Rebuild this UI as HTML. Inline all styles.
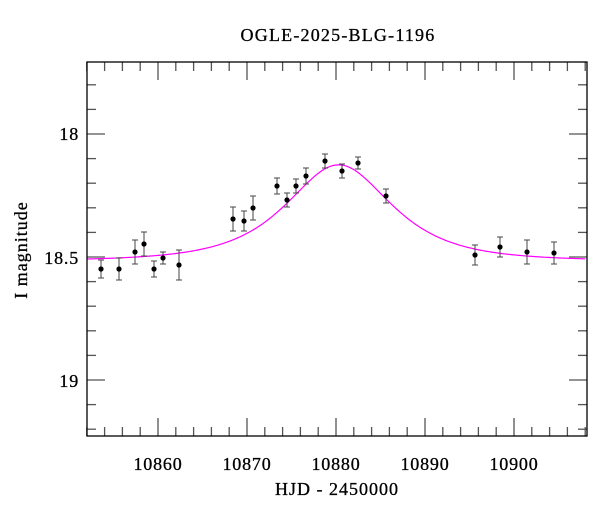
<!DOCTYPE html>
<html><head><meta charset="utf-8"><style>
body{margin:0;background:#fff;}
svg{display:block;font-family:"Liberation Serif",serif;}
</style></head><body>
<svg id="s" width="600" height="512" viewBox="0 0 600 512" xmlns="http://www.w3.org/2000/svg">
<rect x="0" y="0" width="600" height="512" fill="#fff"/>
<text x="338" y="41" font-size="18" letter-spacing="1.2" text-anchor="middle" stroke="#000" stroke-width="0.3">OGLE-2025-BLG-1196</text>
<g id="ticks" stroke="#555" stroke-width="1.3"></g>
<path id="curve" fill="none" stroke="#ff00ff" stroke-width="1.2"/>
<g id="pts"></g>
<rect x="87" y="62" width="500" height="374" fill="none" stroke="#000" stroke-width="1.3"/>
<g font-size="18" letter-spacing="0.8" text-anchor="middle" stroke="#000" stroke-width="0.3">
<text x="158" y="470">10860</text>
<text x="247" y="470">10870</text>
<text x="336" y="470">10880</text>
<text x="425" y="470">10890</text>
<text x="514" y="470">10900</text>
</g>
<g font-size="18" letter-spacing="0.8" text-anchor="end" stroke="#000" stroke-width="0.3">
<text x="79" y="140">18</text>
<text x="79" y="264">18.5</text>
<text x="79" y="387">19</text>
</g>
<text x="337" y="495" font-size="18" letter-spacing="1" text-anchor="middle" stroke="#000" stroke-width="0.3">HJD - 2450000</text>
<text transform="translate(27,250) rotate(-90)" font-size="18" letter-spacing="1" text-anchor="middle" stroke="#000" stroke-width="0.3">I magnitude</text>
</svg>
<script>
function X(t){return 158+(t-10860)*8.9;}
function Y(m){return 134+(m-18)*246;}
var tk=document.getElementById("ticks"),h="";
for(var t=10852;t<=10908;t+=2){var x=X(t),L=(t%10==0)?18:9;
h+='<line x1="'+x+'" y1="436" x2="'+x+'" y2="'+(436-L)+'"/><line x1="'+x+'" y1="62" x2="'+x+'" y2="'+(62+L)+'"/>';}
for(var i=8;i<=22;i++){var m=17+i/10,y=Y(m);if(y<63||y>435)continue;var L=(i%5==0)?18:9;
h+='<line x1="87" y1="'+y+'" x2="'+(87+L)+'" y2="'+y+'"/><line x1="587" y1="'+y+'" x2="'+(587-L)+'" y2="'+y+'"/>';}
tk.innerHTML=h;
var u0=0.89,t0=10880.3,tE=7.6,I0=18.516,d="";
for(var t=10852;t<=10908.2;t+=0.2){var tau=(t-t0)/tE,u=Math.sqrt(u0*u0+tau*tau);
var A=(u*u+2)/(u*Math.sqrt(u*u+4));var m=I0-2.5*Math.log10(A);
d+=(d?"L":"M")+X(t).toFixed(2)+","+Y(m).toFixed(2);}
document.getElementById("curve").setAttribute("d",d);
var P=[[101,269,9],[119,269,11],[135,252,12],[144,244,12],[154,269,8],[163,258,6],[179,265,15],[233,219,12],[244,221,10],[253,208,12],[277,186,8],[287,200,7],[296,186,7],[306,176,8],[325,161,7],[342,171,7],[358,163,6],[386,196,7],[475,255,10],[500,247,10],[527,252,12],[554,253,11]];
var g="";P.forEach(function(p){var x=p[0],y=p[1],e=p[2];
g+='<line x1="'+x+'" y1="'+(y-e)+'" x2="'+x+'" y2="'+(y+e)+'" stroke="#444" stroke-width="1"/>';
g+='<line x1="'+(x-3)+'" y1="'+(y-e)+'" x2="'+(x+3)+'" y2="'+(y-e)+'" stroke="#444" stroke-width="1"/>';
g+='<line x1="'+(x-3)+'" y1="'+(y+e)+'" x2="'+(x+3)+'" y2="'+(y+e)+'" stroke="#444" stroke-width="1"/>';
g+='<circle cx="'+x+'" cy="'+y+'" r="2.6" fill="#000"/>';});
document.getElementById("pts").innerHTML=g;
</script>
</body></html>
